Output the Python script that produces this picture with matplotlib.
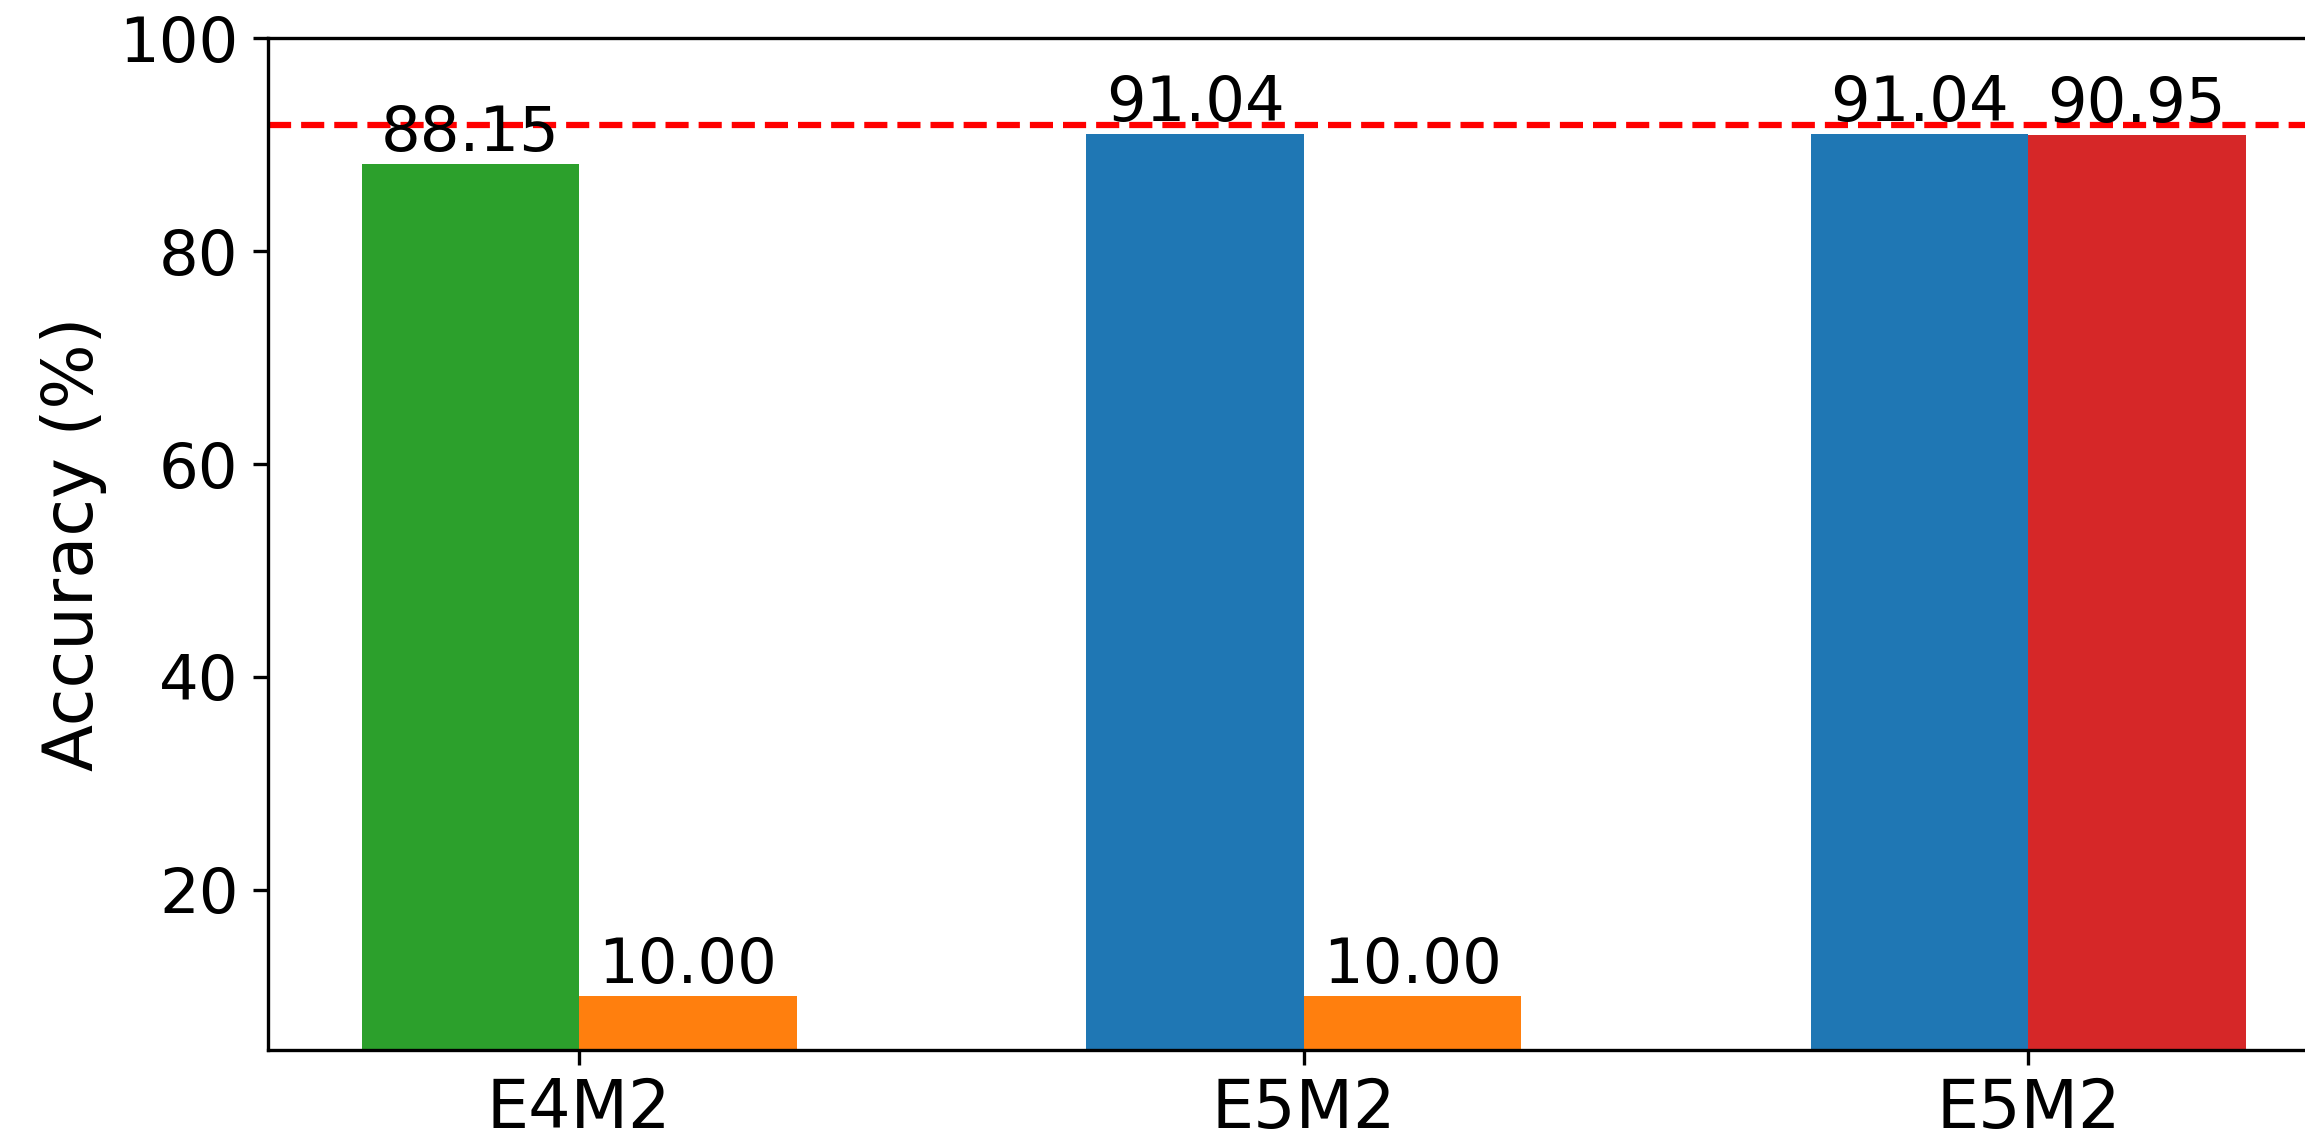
import matplotlib
matplotlib.use("Agg")
import matplotlib.pyplot as plt
import numpy as np

# Formats compared and accuracies of the two runs per format
categories = ["E4M2", "E5M2", "E5M2"]
left_values = [88.15, 91.04, 91.04]
right_values = [10.00, 10.00, 90.95]
left_colors = ["tab:green", "tab:blue", "tab:blue"]
right_colors = ["tab:orange", "tab:orange", "tab:red"]
baseline = 91.85

fig = plt.figure(figsize=(2305 / 300, 1138 / 300), dpi=300)
ax = fig.add_axes([0.1161, 0.0777, 0.899, 0.8887])

x = np.arange(len(categories))
width = 0.3

bars_left = ax.bar(x - width / 2, left_values, width, color=left_colors)
bars_right = ax.bar(x + width / 2, right_values, width, color=right_colors)

ax.bar_label(bars_left, fmt="%.2f", fontsize=15)
ax.bar_label(bars_right, fmt="%.2f", fontsize=15)

ax.axhline(baseline, color="red", linestyle="--", linewidth=1.5)

ax.set_ylim(5, 100)
ax.set_xticks(x)
ax.set_xticklabels(categories)
ax.tick_params(axis="x", labelsize=16, pad=2.8)
ax.tick_params(axis="y", labelsize=15)
ax.set_ylabel("Accuracy (%)", fontsize=16.5, labelpad=3)

fig.savefig("out.png", dpi=300)
